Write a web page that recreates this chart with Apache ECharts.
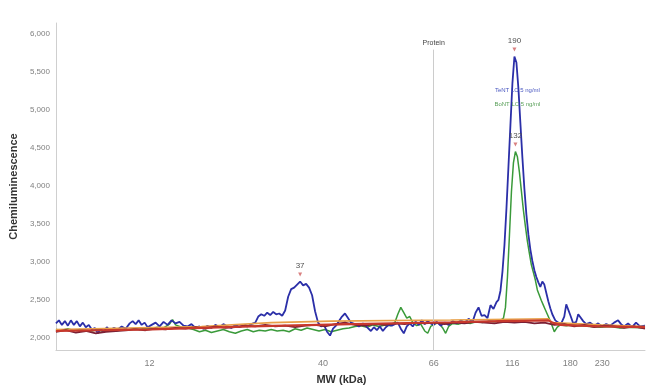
<!DOCTYPE html>
<html>
<head>
<meta charset="utf-8">
<script src="https://cdn.jsdelivr.net/npm/echarts@6/dist/echarts.min.js"></script>
<style>html,body{margin:0;padding:0;background:#fff}#c{width:650px;height:390px}</style>
</head>
<body>
<div id="c"></div>
<script>
// Migration position (arbitrary units along the capillary) and MW tick labels
var tickPositions = [148, 322, 433, 512, 570, 602];
var tickLabels = ['12', '40', '66', '116', '180', '230'];
var yTicks = [2000, 2500, 3000, 3500, 4000, 4500, 5000, 5500, 6000];
var proteinPos = 433;

var bluePos = [54,57,60,63,66,69,72,75,78,81,84,87,90,93,96,99,102,105,108,112,116,120,124,128,131,134,137,140,143,146,150,154,158,162,166,170,174,178,182,186,190,194,198,202,206,210,214,218,222,226,230,234,238,242,246,250,254,257,260,263,266,269,272,275,278,281,284,287,290,293,296,299,302,305,308,311,314,317,320,323,326,329,332,335,338,341,344,347,350,354,358,362,366,370,373,376,379,382,385,388,391,394,397,400,403,406,409,412,415,418,421,424,427,430,433,436,440,444,448,452,456,460,464,468,472,475,478,481,484,487,490,493,496,498,500,502,504,506,508,510,512,514,516,518,520,522,524,526,528,530,532,534,536,538,540,542,544,546,548,550,552,555,558,561,564,566,568,570,573,576,578,580,583,586,590,594,598,602,606,610,614,618,621,624,628,632,636,640,645];
var blueVal = [2190,2230,2170,2220,2160,2230,2170,2220,2150,2200,2140,2170,2110,2130,2060,2120,2070,2140,2100,2130,2110,2150,2120,2190,2220,2180,2230,2170,2200,2140,2170,2200,2150,2210,2170,2230,2190,2210,2160,2150,2180,2130,2150,2120,2160,2130,2170,2140,2180,2150,2130,2170,2140,2160,2150,2180,2200,2280,2310,2290,2330,2300,2340,2310,2320,2290,2360,2540,2640,2660,2700,2740,2690,2710,2660,2560,2350,2200,2150,2170,2080,2030,2120,2160,2220,2280,2320,2260,2200,2180,2150,2190,2140,2090,2140,2100,2150,2090,2140,2170,2160,2180,2200,2120,2060,2150,2190,2150,2210,2170,2230,2180,2220,2190,2170,2210,2160,2200,2170,2220,2190,2230,2200,2250,2210,2330,2400,2290,2300,2260,2430,2380,2470,2500,2620,2870,3220,3700,4250,4800,5350,5700,5620,5280,4820,4370,3960,3620,3360,3160,3010,2890,2800,2730,2670,2740,2700,2590,2480,2390,2310,2230,2200,2190,2280,2440,2460,2300,2190,2210,2310,2330,2220,2180,2200,2160,2190,2150,2180,2160,2200,2230,2180,2150,2190,2140,2200,2150,2160];

var greenPos = [54,60,66,72,78,84,90,96,102,108,114,120,126,132,138,144,150,156,162,168,171,174,180,186,192,198,204,210,216,222,228,234,240,246,252,258,264,270,276,282,288,294,300,306,312,318,324,330,336,342,348,354,360,366,372,378,384,390,394,397,400,403,406,409,412,416,420,424,427,430,434,438,442,445,448,452,458,464,470,476,482,488,494,500,503,505,507,509,511,513,515,517,519,521,523,525,527,529,531,533,535,537,539,541,543,545,547,549,551,554,557,560,566,572,580,590,600,610,620,630,645];
var greenVal = [2110,2100,2120,2095,2110,2100,2090,2110,2080,2100,2090,2110,2100,2120,2110,2130,2120,2140,2130,2180,2240,2170,2140,2130,2110,2080,2100,2070,2090,2110,2080,2060,2090,2110,2080,2100,2090,2110,2090,2100,2080,2120,2100,2130,2110,2090,2110,2080,2100,2120,2130,2150,2160,2140,2170,2150,2170,2160,2200,2310,2400,2330,2260,2280,2200,2160,2180,2090,2060,2150,2180,2200,2130,2060,2150,2190,2180,2200,2190,2210,2200,2220,2210,2230,2260,2400,2800,3350,3920,4300,4450,4380,4180,3930,3680,3470,3270,3110,2960,2860,2760,2630,2560,2490,2430,2370,2310,2250,2190,2080,2140,2170,2160,2170,2160,2150,2140,2150,2130,2140,2130];

var maroonPos = [54,64,74,84,94,104,114,124,134,144,154,164,174,184,194,204,214,224,234,244,254,264,274,284,294,304,314,324,334,344,354,364,374,384,394,404,414,424,434,444,454,464,474,484,494,504,514,524,534,544,554,564,574,584,594,604,614,624,634,645];
var maroonVal = [2080,2100,2070,2090,2060,2080,2090,2100,2110,2100,2120,2110,2130,2120,2140,2120,2150,2130,2140,2160,2150,2170,2150,2160,2140,2160,2170,2150,2180,2200,2170,2160,2180,2170,2190,2180,2200,2190,2200,2180,2200,2190,2210,2200,2190,2210,2200,2210,2190,2200,2170,2180,2150,2170,2140,2160,2150,2130,2150,2120];

var redPos = [54,150,250,350,450,500,548,552,560,600,645];
var redVal = [2090,2110,2150,2180,2205,2220,2230,2200,2170,2150,2140];

var orangePos = [54,200,270,330,450,548,552,600,645];
var orangeVal = [2110,2150,2200,2220,2235,2250,2200,2170,2150];

var peak190 = [514, 5700], peak37 = [299, 2740], peak132 = [515, 4450];
var blueText = 'TeNT LC 5 ng/ml', greenText = 'BoNT LC 5 ng/ml';

function zip(a, b) { return a.map(function (x, i) { return [x, b[i]]; }); }

var font = 'Liberation Sans, Arial, sans-serif';
var peakMark = function (coord, text) {
  return {
    coord: coord, symbol: 'triangle', symbolRotate: 180, symbolSize: [4, 4],
    symbolOffset: [0, -7], itemStyle: { color: '#d98080' },
    label: { show: true, formatter: text, position: 'top', distance: 3, color: '#505050', fontSize: 8, fontFamily: font }
  };
};

var chart = echarts.init(document.getElementById('c'), null, { renderer: 'canvas' });
chart.setOption({
  animation: false,
  backgroundColor: '#fff',
  grid: { left: 54, right: 5, top: 23, bottom: 40 },
  xAxis: {
    type: 'value', min: 54, max: 645,
    name: 'MW (kDa)', nameLocation: 'middle', nameGap: 24,
    nameTextStyle: { color: '#333', fontSize: 11, fontWeight: 'bold', fontFamily: font, padding: [0, 18, 0, 0] },
    axisLine: { show: true, lineStyle: { color: '#cfcfcf', width: 1 } },
    axisTick: { show: false },
    splitLine: { show: false },
    axisLabel: {
      customValues: tickPositions, color: '#808080', fontSize: 9, fontFamily: font, margin: 9,
      formatter: function (v) { var i = tickPositions.indexOf(v); return i >= 0 ? tickLabels[i] : ''; }
    }
  },
  yAxis: {
    type: 'value', min: 1840, max: 6140,
    name: 'Chemiluminescence', nameLocation: 'middle', nameGap: 36,
    nameTextStyle: { color: '#333', fontSize: 11, fontWeight: 'bold', fontFamily: font },
    axisLine: { show: true, lineStyle: { color: '#cfcfcf', width: 1 } },
    axisTick: { show: false },
    splitLine: { show: false },
    axisLabel: {
      customValues: yTicks, color: '#808080', fontSize: 8, fontFamily: font, margin: 6,
      formatter: function (v) { return v.toLocaleString('en-US'); }
    }
  },
  series: [
    {
      type: 'line', data: zip(greenPos, greenVal), showSymbol: false, symbol: 'none',
      lineStyle: { color: '#3a9a3a', width: 1.5 }, z: 2,
      markPoint: { data: [peakMark(peak132, '132'),
        { coord: [517, 5075], symbolSize: 0, label: { show: true, formatter: greenText, position: 'inside', color: '#5aa05a', fontSize: 6, fontFamily: font } }] }
    },
    {
      type: 'line', data: zip(bluePos, blueVal), showSymbol: false, symbol: 'none',
      lineStyle: { color: '#2b2fa8', width: 1.8 }, z: 3,
      markPoint: { data: [peakMark(peak190, '190'), peakMark(peak37, '37'),
        { coord: [517, 5255], symbolSize: 0, label: { show: true, formatter: blueText, position: 'inside', color: '#4a58c0', fontSize: 6, fontFamily: font } }] }
    },
    {
      type: 'line', data: zip(orangePos, orangeVal), showSymbol: false, symbol: 'none',
      lineStyle: { color: '#e8a048', width: 1.6 }, z: 4
    },
    {
      type: 'line', data: zip(maroonPos, maroonVal), showSymbol: false, symbol: 'none',
      lineStyle: { color: '#7a2035', width: 1.8 }, z: 5
    },
    {
      type: 'line', data: zip(redPos, redVal), showSymbol: false, symbol: 'none',
      lineStyle: { color: '#c8382c', width: 2.2 }, z: 6,
      markLine: {
        silent: true, symbol: ['none', 'none'],
        lineStyle: { color: '#cccccc', width: 1, type: 'solid' },
        label: { show: true, position: 'end', formatter: 'Protein', color: '#444', fontSize: 7, fontFamily: font, distance: 3 },
        data: [[{ coord: [proteinPos, 1840] }, { coord: [proteinPos, 5790] }]]
      }
    }
  ]
});
</script>
</body>
</html>
